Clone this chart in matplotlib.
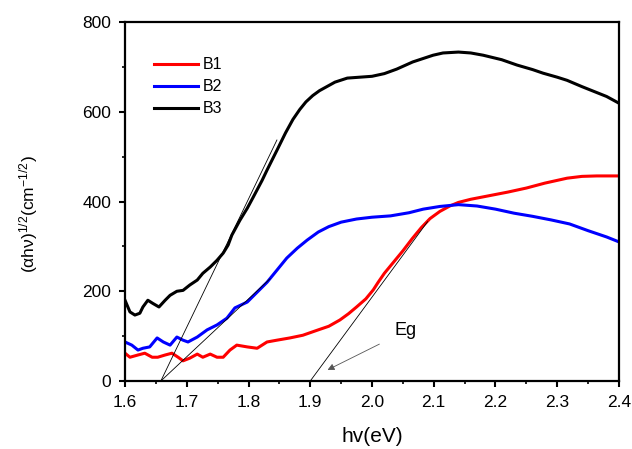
import matplotlib
matplotlib.use("Agg")
import matplotlib.pyplot as plt
from matplotlib.ticker import MultipleLocator

plt.rcParams['font.family'] = ['Liberation Sans', 'DejaVu Sans']
plt.rcParams['mathtext.fontset'] = 'custom'
plt.rcParams['mathtext.rm'] = 'Liberation Sans'
plt.rcParams['mathtext.it'] = 'Liberation Sans:italic'

# B1 (red)
b1_x = [1.600, 1.608, 1.621, 1.632, 1.644, 1.653, 1.665, 1.676, 1.686, 1.694,
        1.705, 1.717, 1.726, 1.738, 1.749, 1.759, 1.770, 1.781, 1.798, 1.814,
        1.830, 1.846, 1.867, 1.888, 1.913, 1.930, 1.948, 1.962, 1.975, 1.990,
        2.002, 2.010, 2.020, 2.035, 2.050, 2.065, 2.080, 2.094, 2.110, 2.126,
        2.140, 2.160, 2.190, 2.220, 2.250, 2.280, 2.316, 2.340, 2.364, 2.400]
b1_y = [62, 53, 58, 62, 53, 53, 58, 62, 53, 45,
        51, 60, 53, 60, 53, 53, 69, 80, 76, 73,
        87, 91, 96, 102, 114, 122, 136, 150, 165, 183,
        203, 220, 240, 265, 290, 317, 342, 362, 378, 390,
        398, 405, 413, 421, 430, 441, 452, 456, 457, 457]

# B2 (blue)
b2_x = [1.600, 1.611, 1.621, 1.629, 1.640, 1.652, 1.662, 1.673, 1.684, 1.694,
        1.702, 1.717, 1.733, 1.749, 1.765, 1.778, 1.798, 1.814, 1.830, 1.846,
        1.862, 1.879, 1.895, 1.913, 1.930, 1.950, 1.975, 2.000, 2.030, 2.060,
        2.083, 2.110, 2.140, 2.170, 2.200, 2.230, 2.260, 2.290, 2.320, 2.350,
        2.380, 2.400]
b2_y = [87, 80, 69, 73, 76, 96, 87, 80, 98, 91,
        87, 98, 114, 125, 140, 163, 176, 198, 220, 247,
        274, 296, 314, 332, 344, 354, 361, 365, 368, 375,
        383, 389, 393, 390, 383, 374, 367, 359, 350, 335,
        321, 310]

# B3 (black)
b3_x = [1.600, 1.608, 1.616, 1.624, 1.629, 1.637, 1.645, 1.655, 1.665, 1.673,
        1.684, 1.694, 1.705, 1.717, 1.726, 1.738, 1.749, 1.759, 1.767, 1.773,
        1.786, 1.798, 1.807, 1.822, 1.830, 1.846, 1.860, 1.872, 1.883, 1.893,
        1.904, 1.915, 1.940, 1.960, 1.980, 2.000, 2.020, 2.040, 2.066, 2.099,
        2.115, 2.140, 2.160, 2.180, 2.210, 2.235, 2.260, 2.277, 2.300, 2.316,
        2.340, 2.360, 2.380, 2.400]
b3_y = [180, 154, 147, 151, 165, 180, 173, 165, 180, 191,
        200, 202, 214, 225, 240, 254, 269, 285, 303, 325,
        358, 385, 408, 447, 470, 514, 553, 583, 605, 622,
        636, 647, 666, 675, 677, 679, 685, 695, 711, 726,
        731, 733, 731, 726, 716, 704, 694, 686, 677, 670,
        656, 645, 634, 619]

# tangent lines (x0, y0, x1, y1)
tangents = [
    (1.658, 0, 1.846, 537),
    (1.658, 0, 1.835, 228),
    (1.900, 0, 2.090, 355),
]

fig = plt.figure(figsize=(6.32, 4.49), dpi=100)
ax = fig.add_axes([0.1978, 0.1514, 0.7816, 0.7996])

ax.plot(b1_x, b1_y, color='#ff0000', lw=2.2, label='B1')
ax.plot(b2_x, b2_y, color='#0000ff', lw=2.2, label='B2')
ax.plot(b3_x, b3_y, color='black', lw=2.2, label='B3')

for x0, y0, x1, y1 in tangents:
    ax.plot([x0, x1], [y0, y1], color='black', lw=0.6)

ax.annotate('', xy=(1.924, 22), xytext=(2.016, 85),
            arrowprops=dict(arrowstyle='-|>', color='#555555', lw=0.6,
                            mutation_scale=10))
ax.text(2.055, 112, 'Eg', fontsize=13, ha='center', va='center')

ax.set_xlim(1.6, 2.4)
ax.set_ylim(0, 800)
ax.xaxis.set_major_locator(MultipleLocator(0.1))
ax.xaxis.set_minor_locator(MultipleLocator(0.05))
ax.yaxis.set_major_locator(MultipleLocator(200))
ax.yaxis.set_minor_locator(MultipleLocator(100))
ax.set_xticks([1.6, 1.7, 1.8, 1.9, 2.0, 2.1, 2.2, 2.3, 2.4])
ax.set_xticklabels(['1.6', '1.7', '1.8', '1.9', '2.0', '2.1', '2.2', '2.3', '2.4'])

for s in ax.spines.values():
    s.set_linewidth(1.6)
ax.tick_params(which='major', direction='out', length=4, width=1.5,
               labelsize=12.5, pad=6)
ax.tick_params(which='minor', direction='out', length=2.5, width=1.2)

ax.set_xlabel('hv(eV)', fontsize=15, labelpad=12)
ax.set_ylabel(r'$\mathrm{(\alpha h\nu)^{1/2}(cm^{-1/2})}$', fontsize=12.5)
ax.yaxis.set_label_coords(-0.172, 0.465)

leg = ax.legend(loc='upper left', bbox_to_anchor=(0.045, 0.92), frameon=False,
                fontsize=11.5, handlelength=2.8, handletextpad=0.3,
                labelspacing=0.45, borderaxespad=0)

fig.savefig('out.png', dpi=100)
